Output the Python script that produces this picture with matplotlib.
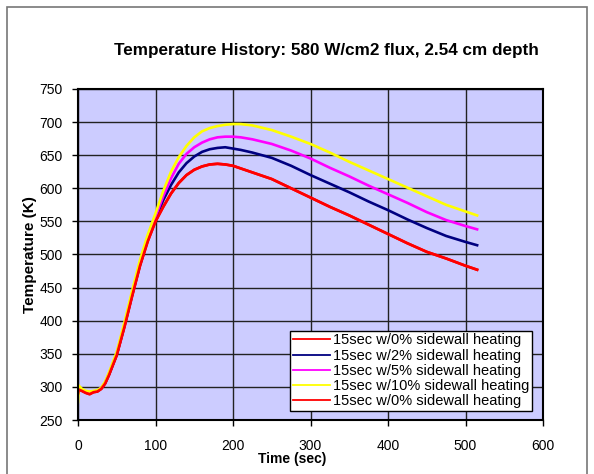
import matplotlib.pyplot as plt
from matplotlib.patches import Rectangle

plt.rcParams['font.family'] = ['Liberation Sans', 'DejaVu Sans']

time = [0, 1, 5, 10, 15, 20, 25, 30, 35, 40, 50, 60, 70, 80, 90, 100, 110, 120,
        130, 140, 150, 160, 170, 180, 190, 200, 210, 225, 250, 275, 300, 325,
        350, 375, 400, 425, 450, 475, 500, 515]

temp_0 = [290, 296, 294, 291, 289, 292, 293, 297, 305, 318, 348, 391, 438, 483,
          520, 550, 572, 592, 608, 620, 628, 633, 636, 637, 636, 634, 630, 624,
          614, 600, 586, 572, 559, 545, 531, 517, 504, 494, 483, 477]
temp_2 = [292, 297, 295, 292, 291, 293, 294, 298, 306, 319, 349, 393, 440, 485,
          523, 555, 582, 605, 624, 638, 648, 655, 659, 661, 662, 660, 658, 654,
          646, 634, 620, 607, 594, 580, 567, 553, 540, 528, 519, 514]
temp_5 = [292, 297, 295, 292, 291, 293, 294, 298, 306, 320, 350, 394, 441, 487,
          525, 557, 588, 615, 637, 652, 662, 669, 674, 677, 678, 678, 677, 674,
          667, 657, 645, 631, 618, 604, 591, 578, 564, 552, 543, 538]
temp_10 = [277, 302, 297, 294, 293, 294, 295, 299, 308, 322, 353, 398, 446, 492,
           530, 562, 596, 625, 647, 664, 677, 686, 691, 694, 696, 697, 697, 695,
           688, 678, 667, 654, 640, 627, 614, 601, 588, 575, 565, 559]

labels = ['15sec w/0% sidewall heating', '15sec w/2% sidewall heating',
          '15sec w/5% sidewall heating', '15sec w/10% sidewall heating',
          '15sec w/0% sidewall heating']
series = [temp_0, temp_2, temp_5, temp_10, temp_0]
colors = ['#FF0000', '#000080', '#FF00FF', '#FFFF00', '#FF0000']

fig = plt.figure(figsize=(5.94, 4.74), dpi=100)
ax = fig.add_axes([78 / 594, 1 - 420 / 474, 465 / 594, 331 / 474])
ax.set_facecolor('#CCCCFF')

for y, c, lab in zip(series, colors, labels):
    ax.plot(time, y, color=c, lw=1.9, label=lab)

ax.set_xlim(0, 600)
ax.set_ylim(250, 750)
ax.set_xticks(range(0, 601, 100))
ax.set_yticks(range(250, 751, 50))
ax.grid(True, color='#222222', lw=1.0)
ax.set_axisbelow(True)
for s in ax.spines.values():
    s.set_color('black')
    s.set_linewidth(1.5)
ax.tick_params(direction='out', length=4, width=1, labelsize=10)
ax.tick_params(axis='x', pad=10)
ax.tick_params(axis='y', pad=7)

ax.set_xlabel('Time (sec)', fontsize=10, fontweight='bold')
ax.xaxis.set_label_coords(0.46, -0.097)
ax.set_ylabel('Temperature (K)', fontsize=11, fontweight='bold', labelpad=2)

# title sits in figure coords, like the Excel chart title
fig.text(0.549, 1 - 50 / 474, 'Temperature History: 580 W/cm2 flux, 2.54 cm depth',
         ha='center', va='center', fontsize=12.3, fontweight='bold')

leg = ax.legend(loc='lower right', bbox_to_anchor=(0.976, 0.027), fontsize=10.5,
                frameon=True, fancybox=False, borderaxespad=0, handlelength=2.5,
                handletextpad=0.2, labelspacing=0.08, borderpad=0.2)
for line in leg.get_lines():
    line.set_linewidth(1.3)
leg.get_frame().set_edgecolor('black')
leg.get_frame().set_facecolor('white')
leg.get_frame().set_alpha(1)
leg.get_frame().set_linewidth(1)

# outer chart-area border (bottom edge runs off the image)
fig.patches.append(Rectangle((7 / 594, -0.1), 580 / 594, 1.1 - 7 / 474,
                             transform=fig.transFigure, fill=False,
                             edgecolor='#777777', lw=1.2))

fig.savefig('out.png', dpi=100)
